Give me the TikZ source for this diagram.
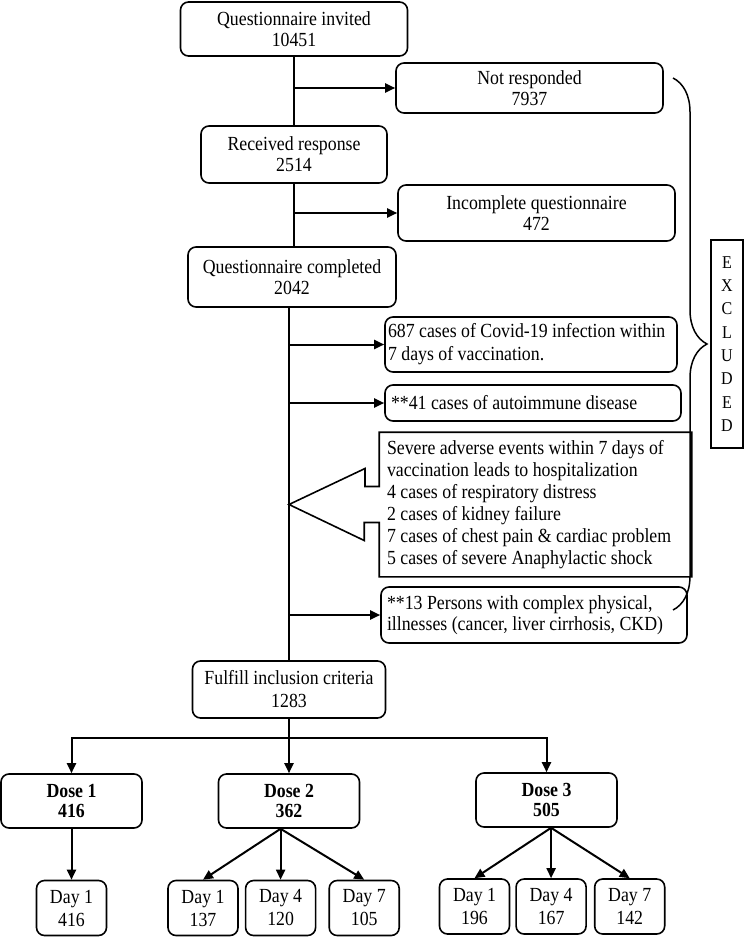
\documentclass[tikz,border=0pt]{standalone}
\usepackage{fontspec}
\setmainfont{Liberation Serif}[FakeStretch=0.89]
\usetikzlibrary{positioning,arrows.meta,decorations.pathreplacing}

\begin{document}
\begin{tikzpicture}[x=1pt,y=-1pt,>={Triangle[length=10pt,width=9pt]},
                    line width=2pt,node distance=6pt]
  \tikzstyle{every node}=[font=\fontsize{20}{21}\selectfont]
  \tikzstyle{box}=[draw,rounded corners=8pt,line width=1.6pt,align=center,inner sep=0pt]
  \tikzstyle{note}=[box,align=flush left,inner xsep=6pt]
  \tikzstyle{dose}=[box,font=\fontsize{20}{20}\selectfont\bfseries,
                    minimum width=141pt,minimum height=54pt]
  \tikzstyle{day}=[box,font=\fontsize{20}{23}\selectfont,
                   minimum width=70pt,minimum height=55pt]

  \useasboundingbox (0,0) rectangle (744,937);

  % main column
  \node[box,minimum width=227pt,minimum height=54pt] (inv) at (294,29)
        {Questionnaire invited\\10451};
  \node[box,minimum width=186pt,minimum height=57pt] (rec) at (294,154.5)
        {Received response\\2514};
  \node[box,minimum width=208pt,minimum height=60pt] (comp) at (292,277)
        {Questionnaire completed\\2042};
  \node[box,minimum width=193pt,minimum height=57pt,
        font=\fontsize{20}{23}\selectfont] (fulfill) at (289,689.5)
        {Fulfill inclusion criteria\\1283};

  % excluded ones
  \node[box,minimum width=267pt,minimum height=50pt] (notr) at (529.5,88)
        {Not responded\\7937};
  \node[box,minimum width=277pt,minimum height=56pt] (inc) at (536.5,213)
        {Incomplete questionnaire\\472};
  \node[note,inner xsep=3pt,text width=286pt,minimum height=55pt,
        font=\fontsize{20}{23}\selectfont] (covid) at (531,344.5)
        {687 cases of Covid-19 infection within\\7 days of vaccination.};
  \node[note,text width=284pt,minimum height=36pt] (auto) at (533,403)
        {**41 cases of autoimmune disease};
  \node[note,draw=none,inner xsep=7pt,text width=297pt,minimum height=143pt,
        font=\fontsize{20}{22}\selectfont] (sev) at (535.5,504.5)
        {Severe adverse events within 7 days of\\
         vaccination leads to hospitalization\\
         4 cases of respiratory distress\\
         2 cases of kidney failure\\
         7 cases of chest pain \& cardiac problem\\
         5 cases of severe Anaphylactic shock};
  \node[note,text width=294pt,minimum height=56pt] (pers) at (534,615)
        {**13 Persons with complex physical,\\illnesses (cancer, liver cirrhosis, CKD)};
  \node[box,rounded corners=0pt,minimum width=32pt,minimum height=208pt,
        font=\fontsize{18}{23.3}\selectfont] (excl) at (727,344)
        {E\\X\\C\\L\\U\\D\\E\\D};

  % doses and days
  \node[dose] (D1) at (71.5,801) {Dose 1\\416};
  \node[dose] (D2) at (289,801) {Dose 2\\362};
  \node[dose] (D3) at (546.5,800) {Dose 3\\505};
  \node[day] (a1) at (71.5,908) {Day 1\\416};
  \node[day] (b1) at (203,908) {Day 1\\137};
  \node[day] (b4) [right=6pt of b1] {Day 4\\120};
  \node[day] (b7) [right=12pt of b4] {Day 7\\105};
  \node[day] (c1) at (474.5,906.5) {Day 1\\196};
  \node[day] (c4) [right=5pt of c1] {Day 4\\167};
  \node[day] (c7) [right=7pt of c4] {Day 7\\142};

  \coordinate (split) at (289,738);
  \coordinate (d2o) at (b4.north |- D2.south);
  \coordinate (d3o) at (c4.north |- D3.south);
  \coordinate (brtop) at (673,78);
  \coordinate (brbot) at (673,610);

  % trunk
  \draw (inv) -- (rec);
  \draw (rec) -- (rec.south |- comp.north);
  \draw (fulfill.north |- comp.south) -- (fulfill);

  % callout arrow round the severe events
  \draw[line width=1.6pt] (sev.north west) -- (sev.north east) -- (sev.south east)
        -- (sev.south west) -- ([yshift=-18pt]sev.west) -- ++(-15,0) -- ++(0,18)
        -- (fulfill.north |- sev.west) -- ++(76,-36) -- ++(0,18) -- ([yshift=18pt]sev.west)
        -- cycle;

  \path[->]
        (inv.south |- notr.west) edge (notr.west)
        (rec.south |- inc.west) edge (inc.west)
        (fulfill.north |- covid.west) edge (covid.west)
        (fulfill.north |- auto.west) edge (auto.west)
        (fulfill.north |- pers.west) edge (pers.west)
        (fulfill) edge (D2)
        (D1) edge (a1)
        (d2o) edge (b1.north)
        (d2o) edge (b4.north)
        (d2o) edge (b7.north)
        (d3o) edge (c1.north)
        (d3o) edge (c4.north)
        (d3o) edge (c7.north);
  \draw[->] (split) -| (D1);
  \draw[->] (split) -| (D3);

  \draw[decorate,decoration={brace,amplitude=34pt},line width=1.5pt] (brtop) -- (brbot);
\end{tikzpicture}
\end{document}
